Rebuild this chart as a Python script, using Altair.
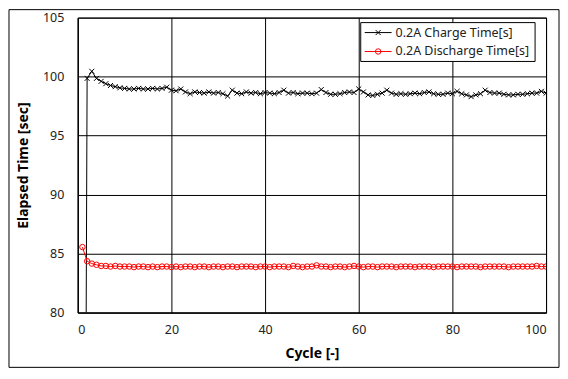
import altair as alt
import pandas as pd

# ---------------- data ----------------
cycles = list(range(1, 101))

charge_time = [
    0.0, 99.85, 100.45, 99.85, 99.6, 99.4, 99.25, 99.15, 99.05, 99.0,
    98.95, 98.95, 99.0, 98.95, 98.95, 99.0, 98.95, 99.0, 99.1, 98.85,
    98.8, 98.95, 98.7, 98.55, 98.7, 98.65, 98.6, 98.7, 98.6, 98.65,
    98.55, 98.35, 98.85, 98.6, 98.55, 98.7, 98.6, 98.65, 98.55, 98.65,
    98.6, 98.55, 98.65, 98.85, 98.6, 98.65, 98.55, 98.6, 98.6, 98.55,
    98.6, 98.9, 98.65, 98.5, 98.5, 98.55, 98.65, 98.7, 98.65, 98.95,
    98.7, 98.45, 98.4, 98.5, 98.6, 98.85, 98.6, 98.5, 98.55, 98.5,
    98.55, 98.6, 98.55, 98.65, 98.7, 98.55, 98.5, 98.5, 98.6, 98.55,
    98.75, 98.55, 98.45, 98.3, 98.45, 98.55, 98.85, 98.65, 98.6, 98.6,
    98.5, 98.45, 98.45, 98.5, 98.5, 98.55, 98.6, 98.6, 98.75, 98.6,
]

discharge_time = [
    85.55, 84.35, 84.15, 84.05, 83.95, 83.95, 83.9, 83.95, 83.9, 83.9,
    83.9, 83.85, 83.9, 83.9, 83.85, 83.9, 83.85, 83.9, 83.9, 83.85,
    83.9, 83.85, 83.9, 83.9, 83.85, 83.9, 83.9, 83.85, 83.9, 83.9,
    83.85, 83.9, 83.9, 83.85, 83.9, 83.9, 83.9, 83.85, 83.9, 83.9,
    83.85, 83.9, 83.9, 83.9, 83.85, 83.95, 83.9, 83.85, 83.9, 83.9,
    84.0, 83.9, 83.9, 83.85, 83.9, 83.9, 83.85, 83.9, 83.95, 83.9,
    83.85, 83.9, 83.9, 83.85, 83.9, 83.9, 83.9, 83.85, 83.9, 83.9,
    83.9, 83.85, 83.9, 83.9, 83.9, 83.85, 83.9, 83.9, 83.9, 83.9,
    83.85, 83.9, 83.9, 83.9, 83.9, 83.85, 83.9, 83.9, 83.9, 83.9,
    83.9, 83.85, 83.9, 83.9, 83.9, 83.9, 83.9, 83.95, 83.9, 83.9,
]

series_names = ["0.2A Charge Time[s]", "0.2A Discharge Time[s]"]
series_colors = ["#000000", "#ff0000"]

x_ticks = [0, 20, 40, 60, 80, 100]
y_ticks = [80, 85, 90, 95, 100, 105]

df_c = pd.DataFrame({"cycle": cycles, "time": charge_time})
df_d = pd.DataFrame({"cycle": cycles, "time": discharge_time})

FONT = "Noto Sans"
XPATH = "M-1,-1L1,1M-1,1L1,-1"

x_enc = alt.X(
    "cycle:Q",
    scale=alt.Scale(domain=[0, 100], nice=False),
    axis=alt.Axis(values=x_ticks, title="Cycle [-]", grid=True),
)
y_enc = alt.Y(
    "time:Q",
    scale=alt.Scale(domain=[80, 105], nice=False),
    axis=alt.Axis(values=y_ticks, title="Elapsed Time [sec]", grid=True),
)

def series_layers(df, color, shape, size):
    line = alt.Chart(df).mark_line(color=color, strokeWidth=1, clip=True).encode(x=x_enc, y=y_enc)
    pts = alt.Chart(df).mark_point(
        shape=shape, size=size, color=color, strokeWidth=1, filled=False, clip=True, opacity=1
    ).encode(x=x_enc, y=y_enc)
    return [line, pts]

one = pd.DataFrame({"k": [0]})

# legend (drawn by hand)
LX0, LX1, LY0, LY1 = 284, 459, 5, 44
row_y = [15, 34]
legend_box = alt.Chart(one).mark_rect(fill="white", stroke="black", strokeWidth=1).encode(
    x=alt.value(LX0), x2=alt.value(LX1), y=alt.value(LY0), y2=alt.value(LY1)
)
legend_layers = [legend_box]
shapes = [XPATH, "circle"]
sizes = [25, 30]
for i in range(2):
    legend_layers.append(
        alt.Chart(one).mark_rule(color=series_colors[i], strokeWidth=1).encode(
            x=alt.value(288), x2=alt.value(315), y=alt.value(row_y[i])
        )
    )
    legend_layers.append(
        alt.Chart(one).mark_point(shape=shapes[i], size=sizes[i], color=series_colors[i],
                                  filled=False, strokeWidth=1, opacity=1).encode(
            x=alt.value(301.5), y=alt.value(row_y[i])
        )
    )
    legend_layers.append(
        alt.Chart(one).mark_text(align="left", baseline="middle", font=FONT, fontSize=12.5,
                                 color="#222222").encode(
            x=alt.value(319), y=alt.value(row_y[i]), text=alt.value(series_names[i])
        )
    )

frame = alt.Chart(one).mark_rect(fillOpacity=0, stroke="black", strokeWidth=1).encode(
    x=alt.value(-69), x2=alt.value(483), y=alt.value(-8), y2=alt.value(351)
)

layers = (
    series_layers(df_c, series_colors[0], XPATH, 25)
    + series_layers(df_d, series_colors[1], "circle", 30)
    + legend_layers
    + [frame]
)

chart = alt.layer(*layers).properties(
    width=470,
    height=296,
    autosize=alt.AutoSizeParams(type="none"),
    padding={"left": 70, "top": 9, "right": 14, "bottom": 56},
).configure_view(
    stroke="black", strokeWidth=1
).configure_axis(
    gridColor="black", gridOpacity=1, gridWidth=1,
    domainColor="black", domainWidth=1,
    tickSize=0, ticks=False,
    labelFont=FONT, labelFontSize=12.5, labelColor="#222222",
    titleFont=FONT, titleFontWeight="bold", titleColor="#000000",
).configure_axisX(
    labelPadding=11, titlePadding=11, titleFontSize=14,
).configure_axisY(
    labelPadding=14, titlePadding=12, titleFontSize=14,
)

chart.save("out.html", embed_options={"renderer": "svg", "actions": False})
